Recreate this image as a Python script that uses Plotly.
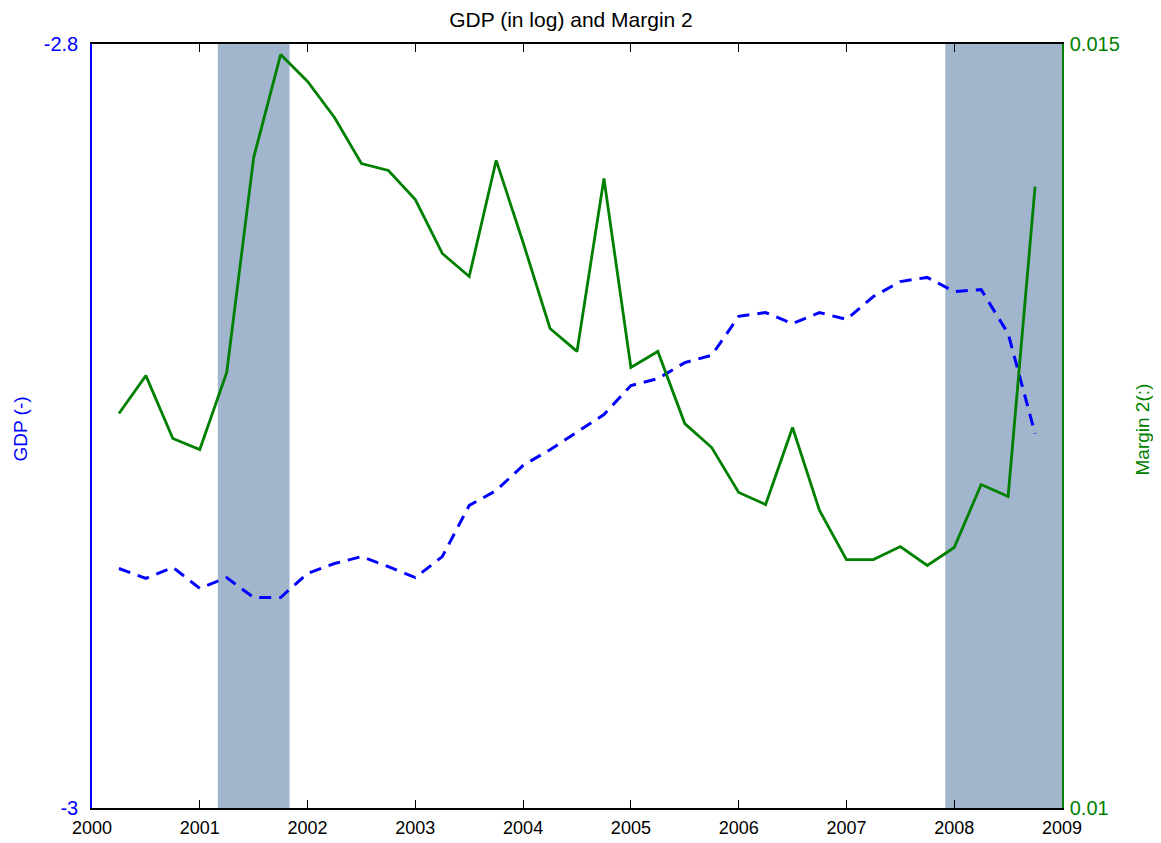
import plotly.graph_objects as go

# Quarterly dates (decimal years)
dates = [2000.25, 2000.5, 2000.75, 2001.0, 2001.25, 2001.5, 2001.75,
         2002.0, 2002.25, 2002.5, 2002.75, 2003.0, 2003.25, 2003.5, 2003.75,
         2004.0, 2004.25, 2004.5, 2004.75, 2005.0, 2005.25, 2005.5, 2005.75,
         2006.0, 2006.25, 2006.5, 2006.75, 2007.0, 2007.25, 2007.5, 2007.75,
         2008.0, 2008.25, 2008.5, 2008.75]

gdp_log = [-2.9373, -2.9399, -2.9370, -2.9425, -2.9397, -2.9449, -2.9449,
           -2.9386, -2.9360, -2.9342, -2.9368, -2.9397, -2.9342, -2.9208, -2.9169,
           -2.9103, -2.9062, -2.9017, -2.8970, -2.8894, -2.8876, -2.8834, -2.8815,
           -2.8713, -2.8703, -2.8732, -2.8703, -2.8721, -2.8661, -2.8622, -2.8611,
           -2.8648, -2.8643, -2.8758, -2.9020]

margin2 = [0.012582, 0.012830, 0.012418, 0.012346, 0.012850, 0.014257, 0.014931,
           0.014755, 0.014519, 0.014218, 0.014172, 0.013982, 0.013629, 0.013478, 0.014238,
           0.013701, 0.013138, 0.012988, 0.014120, 0.012883, 0.012988, 0.012516, 0.012359,
           0.012065, 0.011986, 0.012490, 0.011947, 0.011626, 0.011626, 0.011711, 0.011587,
           0.011705, 0.012117, 0.012039, 0.014067]

# Recession shading periods (start, end)
recession_start = [2001.167, 2007.917]
recession_end = [2001.833, 2009.0]

year_ticks = list(range(2000, 2010))
left_ticks = [-3, -2.8]
left_tick_text = ["-3", "-2.8"]
right_ticks = [0.01, 0.015]
right_tick_text = ["0.01", "0.015"]

FONT = "Liberation Sans, Arial, sans-serif"
BLUE = "#0000FF"
GREEN = "#008000"

fig = go.Figure()

fig.add_trace(go.Scatter(x=dates, y=gdp_log, mode="lines", name="GDP",
                         line=dict(color=BLUE, width=3, dash="12px,8px"),
                         yaxis="y"))
fig.add_trace(go.Scatter(x=dates, y=margin2, mode="lines", name="Margin 2",
                         line=dict(color=GREEN, width=2.8),
                         yaxis="y2"))

for s, e in zip(recession_start, recession_end):
    fig.add_shape(type="rect", xref="x", yref="paper", x0=s, x1=e, y0=0, y1=1,
                  fillcolor="#A1B5CC", line=dict(width=0), layer="below")

fig.update_layout(
    width=1161, height=843,
    margin=dict(l=84, r=107, t=36, b=43),
    paper_bgcolor="white", plot_bgcolor="white",
    showlegend=False,
    font=dict(family=FONT, size=18, color="black"),
    title=dict(text="GDP (in log) and Margin 2", xref="paper", x=(571 - 92) / 970,
               xanchor="center", yref="container",
               y=1 - 12 / 843, yanchor="middle",
               font=dict(family=FONT, size=21, color="black")),
    xaxis=dict(range=[2000, 2009], tickvals=year_ticks, ticks="inside", ticklen=8,
               tickcolor="black", showline=True, linecolor="black", linewidth=1.5,
               mirror="ticks", showgrid=False, zeroline=False, ticklabelstandoff=3,
               tickfont=dict(family=FONT, size=18, color="black")),
    yaxis=dict(range=[-3, -2.8], tickvals=left_ticks, ticktext=left_tick_text,
               ticks="", showline=True, linecolor=BLUE, linewidth=1.5,
               showgrid=False, zeroline=False, ticklabelstandoff=8,
               tickfont=dict(family=FONT, size=20, color=BLUE)),
    yaxis2=dict(range=[0.01, 0.015], tickvals=right_ticks, ticktext=right_tick_text,
                overlaying="y", side="right", ticks="", showline=True,
                linecolor=GREEN, linewidth=1.5, showgrid=False, zeroline=False,
                ticklabelstandoff=2,
                tickfont=dict(family=FONT, size=20, color=GREEN)),
    annotations=[
        dict(text="GDP (-)", xref="paper", yref="paper",
             x=(20 - 92) / 970, y=(807.5 - 429) / 764, textangle=-90,
             showarrow=False, xanchor="center", yanchor="middle",
             font=dict(family=FONT, size=19, color=BLUE)),
        dict(text="Margin 2(:)", xref="paper", yref="paper",
             x=(1142 - 92) / 970, y=(807.5 - 429) / 764, textangle=-90,
             showarrow=False, xanchor="center", yanchor="middle",
             font=dict(family=FONT, size=19, color=GREEN)),
    ],
)

fig.write_html("out.html")
